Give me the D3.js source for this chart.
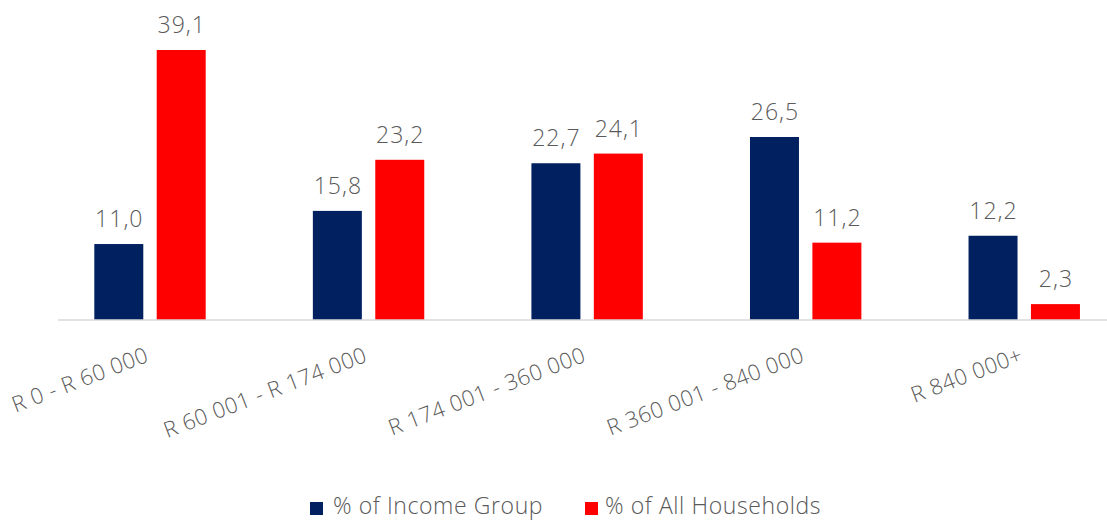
<!DOCTYPE html>
<html>
    <head>
        <script src="https://d3js.org/d3.v7.min.js"></script>
        <style>
            body { margin: 0; background: #fff; }
            text { font-family: "Open Sans", "Noto Sans", sans-serif; font-weight: 300; fill: #595959; }
        </style>
    </head>
    <body>
    <script type="text/javascript">
        var width = 1107, height = 520;

        var categories = ["R 0 - R 60 000", "R 60 001 - R 174 000", "R 174 001 - 360 000", "R 360 001 - 840 000", "R 840 000+"];
        var seriesNames = ["% of Income Group", "% of All Households"];
        var incomeGroup = [11.0, 15.8, 22.7, 26.5, 12.2];
        var allHouseholds = [39.1, 23.2, 24.1, 11.2, 2.3];
        var colors = ["#002060", "#ff0000"];

        var rows = categories.map(function(c, i) {
            return {cat: c, vals: [incomeGroup[i], allHouseholds[i]]};
        });

        var svg = d3.select("body").append("svg")
            .attr("width", width)
            .attr("height", height);

        var x0 = d3.scaleBand()
            .domain(categories)
            .range([40.7, 1133.5]);

        var x1 = d3.scaleBand()
            .domain(seriesNames)
            .range([53.6, 165])
            .paddingInner(0.215);

        var y = d3.scaleLinear()
            .domain([0, 39.1])
            .range([320, 50]);

        var groups = svg.append("g").selectAll("g")
            .data(rows)
            .enter().append("g")
            .attr("transform", function(d) { return "translate(" + x0(d.cat) + ",0)"; });

        var bars = groups.selectAll("g")
            .data(function(d) { return d.vals.map(function(v, j) { return {name: seriesNames[j], v: v, j: j}; }); })
            .enter();

        bars.append("rect")
            .attr("x", function(d) { return x1(d.name); })
            .attr("y", function(d) { return y(d.v); })
            .attr("width", x1.bandwidth())
            .attr("height", function(d) { return y(0) - y(d.v); })
            .attr("fill", function(d) { return colors[d.j]; });

        bars.append("text")
            .attr("x", function(d) { return x1(d.name) + x1.bandwidth() / 2 + 0.5; })
            .attr("y", function(d) { return y(d.v) - 17; })
            .attr("text-anchor", "middle")
            .style("font-size", "23px")
            .style("letter-spacing", "1px")
            .text(function(d) { return d.v.toFixed(1).replace(".", ","); });

        // baseline
        svg.append("line")
            .attr("x1", 58).attr("x2", width)
            .attr("y1", y(0)).attr("y2", y(0))
            .attr("stroke", "#d9d9d9")
            .attr("stroke-width", 1.5);

        // rotated category labels
        svg.append("g").selectAll("text")
            .data(categories)
            .enter().append("text")
            .attr("transform", function(d) {
                return "translate(" + (x0(d) + x0.bandwidth() / 2) + ",361) rotate(-21)";
            })
            .attr("text-anchor", "end")
            .style("font-size", "22px")
            .style("letter-spacing", "0.5px")
            .text(function(d) { return d; });

        // legend
        var legendX = [310, 585];
        var legendTextX = [23, 20];
        var legend = svg.append("g").selectAll("g")
            .data(seriesNames)
            .enter().append("g")
            .attr("transform", function(d, i) { return "translate(" + legendX[i] + ",502)"; });

        legend.append("rect")
            .attr("width", 13).attr("height", 13)
            .attr("fill", function(d, i) { return colors[i]; });

        legend.append("text")
            .attr("x", function(d, i) { return legendTextX[i]; })
            .attr("y", 12)
            .style("font-size", "23px")
            .style("letter-spacing", "0.6px")
            .text(function(d) { return d; });
    </script>
    </body>
</html>
